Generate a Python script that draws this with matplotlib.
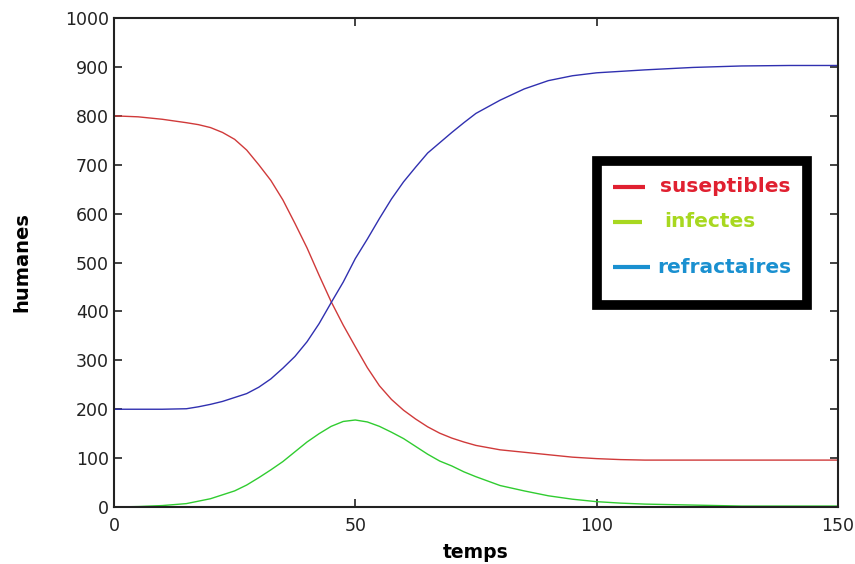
import matplotlib
matplotlib.use('Agg')
import matplotlib.pyplot as plt
from matplotlib.patches import Rectangle

# temps (jours) et populations
temps = [0, 5, 10, 15, 17.5, 20, 22.5, 25, 27.5, 30, 32.5, 35, 37.5, 40, 42.5,
         45, 47.5, 50, 52.5, 55, 57.5, 60, 62.5, 65, 67.5, 70, 72.5, 75, 80,
         85, 90, 95, 100, 105, 110, 120, 130, 140, 150]
suseptibles = [800, 798, 793, 786, 782, 776, 766, 752, 730, 700, 668, 628, 580,
               530, 474, 420, 372, 328, 285, 248, 220, 198, 180, 164, 151, 141,
               133, 126, 117, 112, 107, 102, 99, 97, 96, 96, 96, 96, 96]
infectes = [0, 1, 3, 7, 12, 17, 25, 33, 45, 60, 76, 93, 113, 133, 150, 165,
            175, 178, 174, 165, 153, 140, 124, 108, 94, 84, 72, 62, 44, 33, 23,
            16, 11, 8, 6, 4, 2, 2, 2]
refractaires = [200, 200, 200, 201, 205, 210, 216, 224, 232, 245, 262, 284,
                308, 338, 375, 418, 460, 508, 548, 590, 630, 665, 695, 724, 745,
                766, 786, 805, 832, 855, 872, 882, 888, 891, 894, 899, 902, 903,
                903]

legend_labels = ['suseptibles', 'infectes', 'refractaires']
legend_colors = ['#e02030', '#a8d820', '#1a90d0']

plt.rcParams['font.family'] = ['DejaVu Sans']

fig = plt.figure(figsize=(8.55, 5.64), dpi=100)
ax = fig.add_axes([0.1333, 0.101, 0.8467, 0.867])

ax.plot(temps, suseptibles, color='#d03a3a', lw=1.0)
ax.plot(temps, infectes, color='#30cc30', lw=1.0)
ax.plot(temps, refractaires, color='#3030b0', lw=1.0)

ax.set_xlim(0, 150)
ax.set_ylim(0, 1000)
ax.set_xticks([0, 50, 100, 150])
ax.set_yticks(range(0, 1001, 100))
ax.tick_params(direction='in', length=6, width=1.2, labelsize=12.5,
               top=True, right=True, colors='#222222')
ax.tick_params(axis='x', pad=7)
for s in ax.spines.values():
    s.set_linewidth(1.5)
    s.set_color('#222222')

ax.set_xlabel('temps', fontsize=13.5, fontweight='bold', labelpad=6)
ax.set_ylabel('humanes', fontsize=14, fontweight='bold', labelpad=24)

# boite de legende dessinee a la main
ax.add_patch(Rectangle((0.667, 0.413), 0.291, 0.295, transform=ax.transAxes,
                       fill=False, lw=7, edgecolor='black', zorder=5))
line_y = [0.655, 0.583, 0.490]
line_x = [(0.690, 0.734), (0.690, 0.730), (0.690, 0.741)]
text_x = [0.754, 0.760, 0.750]
for lab, col, y, (x0, x1), tx in zip(legend_labels, legend_colors, line_y,
                                     line_x, text_x):
    ax.plot([x0, x1], [y, y], color=col, lw=3, transform=ax.transAxes,
            solid_capstyle='butt', zorder=6)
    ax.text(tx, y, lab, color=col, fontsize=14.5, fontweight='bold',
            transform=ax.transAxes, va='center', ha='left', zorder=6)

fig.savefig('out.png', dpi=100)
